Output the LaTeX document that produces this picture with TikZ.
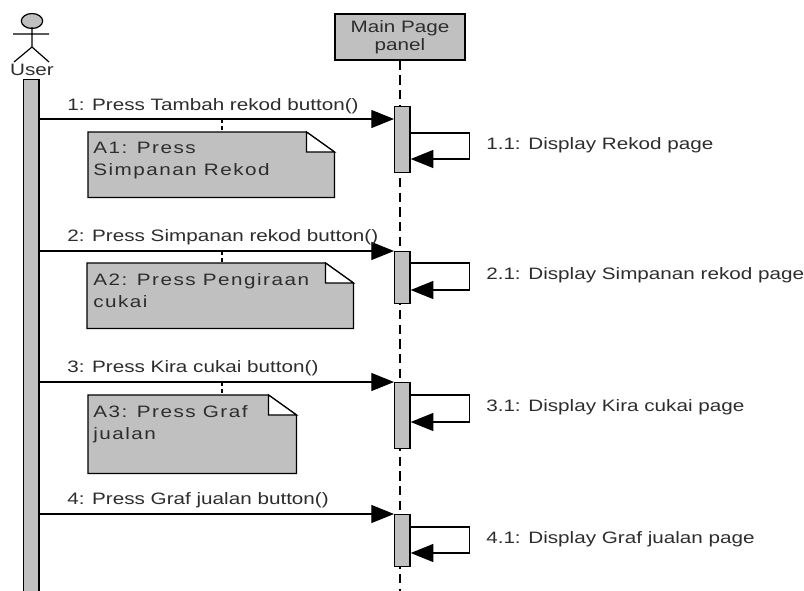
\documentclass[tikz,border=0pt]{standalone}
\usepackage{fontspec}
\setmainfont{Liberation Sans}[FakeStretch=1.25]
\newfontfamily\sqnotefont{Liberation Sans}[FakeStretch=1.25, LetterSpace=9]
\usetikzlibrary{arrows.meta, positioning}
\definecolor{sqgray}{RGB}{192,192,192}
\definecolor{sqink}{RGB}{45,45,45}
\tikzset{
  sqarrow/.style={-{Triangle[length=17pt, width=13.5pt]}, line width=0.9pt},
  sqbar/.style={rectangle, draw, line width=0.9pt, fill=sqgray, minimum width=11.6pt, inner sep=0pt, anchor=north west},
  sqlife/.style={draw, line width=0.9pt, dash pattern=on 7pt off 4pt},
  sqlabel/.style={anchor=base west, inner sep=0pt, text=sqink, font=\fontsize{12.4}{15}\selectfont},
  sqnotearea/.style={rectangle, inner sep=0pt, anchor=north west},
  sqnote/.style={draw, line width=0.9pt, fill=sqgray},
  sqfold/.style={draw, line width=0.9pt, fill=white},
  sqnotetext/.style={anchor=north west, inner sep=0pt, align=left, text=sqink, font=\sqnotefont\fontsize{12.4}{16.5}\selectfont},
  sqlink/.style={draw, line width=0.8pt, dash pattern=on 3pt off 2pt},
}

\begin{document}
\begin{tikzpicture}[x=0.75pt, y=-0.75pt]
  \useasboundingbox (0,0) rectangle (804,590);

  % Actor and its activation.
  \draw[line width=0.9pt, fill=sqgray] (32,21) ellipse [x radius=8pt, y radius=5.6pt];
  \draw[line width=0.9pt] (32,27) -- (32,47) (13,34) -- (49,34)
    (14,62) -- (32,47) -- (49,62);
  \node[sqlabel, anchor=base, font=\fontsize{12.4}{15}\selectfont] (user) at (32,75.5) {User};
  \node[sqbar, minimum height=386pt] (ubar) at (23,79) {};

  % Lifeline of the panel.
  \node[rectangle, draw, line width=0.9pt, fill=sqgray, minimum width=97.5pt, minimum height=34.5pt,
    align=center, text=sqink, font=\fontsize{12.4}{13.5}\selectfont] (panel) at (400,37) {Main Page\\panel};
  \coordinate (lifeend) at (400,595);
  \draw[sqlife] (panel.south) -- (lifeend);

  % Activations on the panel.
  \node[sqbar, minimum height=49.5pt] (act1) at (394,106) {};
  \node[sqbar, minimum height=39pt] (act2) at (394,251) {};
  \node[sqbar, minimum height=49.5pt] (act3) at (394,382) {};
  \node[sqbar, minimum height=39pt] (act4) at (394,514) {};

  % Message heights.
  \coordinate (m1) at (0,119);
  \coordinate (m2) at (0,251);
  \coordinate (m3) at (0,382);
  \coordinate (m4) at (0,514);
  \coordinate (s1) at (0,133);
  \coordinate (s1b) at (0,159);
  \coordinate (s2) at (0,263);
  \coordinate (s2b) at (0,290);
  \coordinate (s3) at (0,395);
  \coordinate (s3b) at (0,422);
  \coordinate (s4) at (0,527);
  \coordinate (s4b) at (0,553);

  % Messages.
  \draw[sqarrow] (ubar.east |- m1) -- (act1.west |- m1);
  \draw[sqarrow] (ubar.east |- m2) -- (act2.west |- m2);
  \draw[sqarrow] (ubar.east |- m3) -- (act3.west |- m3);
  \draw[sqarrow] (ubar.east |- m4) -- (act4.west |- m4);
  \node[sqlabel] (m1lbl) at (67,110) {1: Press Tambah rekod button()};
  \node[sqlabel] (m2lbl) at (67,241) {2: Press Simpanan rekod button()};
  \node[sqlabel] (m3lbl) at (67,372) {3: Press Kira cukai button()};
  \node[sqlabel] (m4lbl) at (67,504) {4: Press Graf jualan button()};

  % Self calls.
  \draw[sqarrow] (act1.east |- s1) -- ++(58.5,0) |- (act1.east |- s1b);
  \draw[sqarrow] (act2.east |- s2) -- ++(58.5,0) |- (act2.east |- s2b);
  \draw[sqarrow] (act3.east |- s3) -- ++(58.5,0) |- (act3.east |- s3b);
  \draw[sqarrow] (act4.east |- s4) -- ++(58.5,0) |- (act4.east |- s4b);
  \node[sqlabel] (s1lbl) at (486,149.5) {1.1: Display Rekod page};
  \node[sqlabel] (s2lbl) at (486,279.5) {2.1: Display Simpanan rekod page};
  \node[sqlabel] (s3lbl) at (486,411.5) {3.1: Display Kira cukai page};
  \node[sqlabel] (s4lbl) at (486,543.5) {4.1: Display Graf jualan page};

  % Notes.
  \node[sqnotearea, minimum width=184.5pt, minimum height=48.75pt] (note1) at (88,132) {};
  \node[sqnotearea, minimum width=199.5pt, minimum height=48.75pt] (note2) at (87,263) {};
  \node[sqnotearea, minimum width=156pt, minimum height=58.5pt] (note3) at (88,395) {};
  \foreach \n in {note1, note2, note3} {
    \draw[sqnote] (\n.north west) -- ([xshift=-21pt]\n.north east) -- ([yshift=-15pt]\n.north east)
      -- (\n.south east) -- (\n.south west) -- cycle;
    \draw[sqfold] ([xshift=-21pt]\n.north east) |- ([yshift=-15pt]\n.north east) -- cycle;
  }
  \node[sqnotetext] (note1txt) at (93,142) {A1: Press\\Simpanan Rekod};
  \node[sqnotetext] (note2txt) at (93,273) {A2: Press Pengiraan\\cukai};
  \node[sqnotetext] (note3txt) at (93,405) {A3: Press Graf\\jualan};

  % Note links.
  \coordinate (lk) at (222,0);
  \draw[sqlink] (lk |- m1) -- (lk |- note1.north);
  \draw[sqlink] (lk |- m2) -- (lk |- note2.north);
  \draw[sqlink] (lk |- m3) -- (lk |- note3.north);
\end{tikzpicture}
\end{document}
